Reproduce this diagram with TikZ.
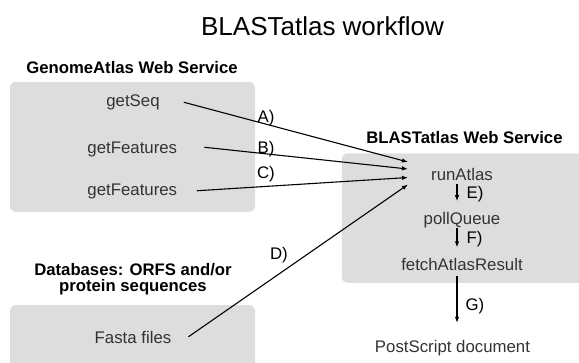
\documentclass[tikz,border=0pt]{standalone}
\usepackage{fontspec}
\setmainfont{Liberation Sans}
\usetikzlibrary{positioning, arrows.meta}
\definecolor{panelgray}{HTML}{DDDDDD}
\definecolor{ink}{HTML}{333333}

\begin{document}
\begin{tikzpicture}[
    x=1pt, y=-1pt,
    >={Latex[length=6pt,width=4.5pt]},
    panel/.style={fill=panelgray, rounded corners=6pt, inner sep=0pt},
    head/.style={font=\fontsize{16.7}{16.5}\selectfont\bfseries, align=center,
                 anchor=base, inner sep=0pt},
    call/.style={font=\fontsize{16.8}{20}\selectfont, text=ink, anchor=base,
                 text height=12pt, text depth=3.5pt, inner sep=0pt},
    lbl/.style={font=\fontsize{16.8}{20}\selectfont, anchor=base,
                text height=12pt, text depth=3.5pt, inner sep=0pt},
    flow/.style={->, line width=1.1pt},
]
\clip (0,0) rectangle (579,362);

% Title
\node[font=\fontsize{26}{30}\selectfont, anchor=base, inner sep=0pt]
    (title) at (322.5,35) {BLASTatlas workflow};

% Grey service panels
\node[panel, minimum width=245pt, minimum height=130pt] (genomebox) at (132.5,146.8) {};
\node[panel, minimum width=248pt, minimum height=129.5pt] (blastbox) at (465.8,218) {};
\node[panel, minimum width=245pt, minimum height=70pt] (dbbox) at (132.5,340) {};

% Panel headings
\node[head] (genomehead) at (132,73.3) {GenomeAtlas Web Service};
\node[head] (blasthead) at (464.5,143) {BLASTatlas Web Service};
\node[head, anchor=center] (dbhead) at (133,279) {Databases: ORFS and/or\\protein sequences};

% Inputs on the left
\node[call] (getseq) at (133,106.5) {getSeq};
\node[call] (getfeat) at (132.3,153) {getFeatures};
\node[call] (getfeattwo) at (132.3,195) {getFeatures};
\node[call] (fasta) at (133,343.5) {Fasta files};

% BLASTatlas steps
\node[call] (runatlas) at (462,180) {runAtlas};
\node[call, below=28.5pt of runatlas] (pollqueue) {pollQueue};
\node[call, below=30.5pt of pollqueue] (fetch) {fetchAtlasResult};
\node[call] (postscript) at (452.5,352.5) {PostScript document};

\coordinate (col) at (457,0);
\coordinate (inA) at ([xshift=-23pt, yshift=13.75pt]runatlas.west);
\coordinate (inB) at ([xshift=-23pt, yshift=6.75pt]runatlas.west);
\coordinate (inC) at ([xshift=-23pt, yshift=-1.75pt]runatlas.west);
\coordinate (inD) at ([xshift=-23pt, yshift=-8.75pt]runatlas.west);

% Calls into runAtlas
\draw[flow] ([xshift=24pt]getseq.east) -- (inA)
    node[lbl, pos=0.367, yshift=2pt] (la) {A)};
\draw[flow] ([xshift=27pt, yshift=1.5pt]getfeat.east) -- (inB)
    node[lbl, pos=0.303] (lb) {B)};
\draw[flow] ([xshift=19.6pt]getfeattwo.east) -- (inC)
    node[lbl, pos=0.327, yshift=7.5pt] (lc) {C)};
\draw[flow] ([xshift=17pt, yshift=2.5pt]fasta.east) -- (inD)
    node[lbl, pos=0.412, yshift=14.5pt] (ld) {D)};

% Steps down the column
\draw[flow, shorten >=11pt] (runatlas.south -| col) -- (pollqueue.north -| col)
    node[lbl, pos=0.386, right=9pt] (le) {E)};
\draw[flow, shorten >=11.3pt] (pollqueue.south -| col) -- (fetch.north -| col)
    node[lbl, pos=0.38, right=9pt] (lf) {F)};
\draw[flow, shorten <=1.5pt, shorten >=17.5pt] (fetch.south -| col) -- (postscript.north -| col)
    node[lbl, pos=0.485, right=8pt] (lg) {G)};

\end{tikzpicture}
\end{document}
